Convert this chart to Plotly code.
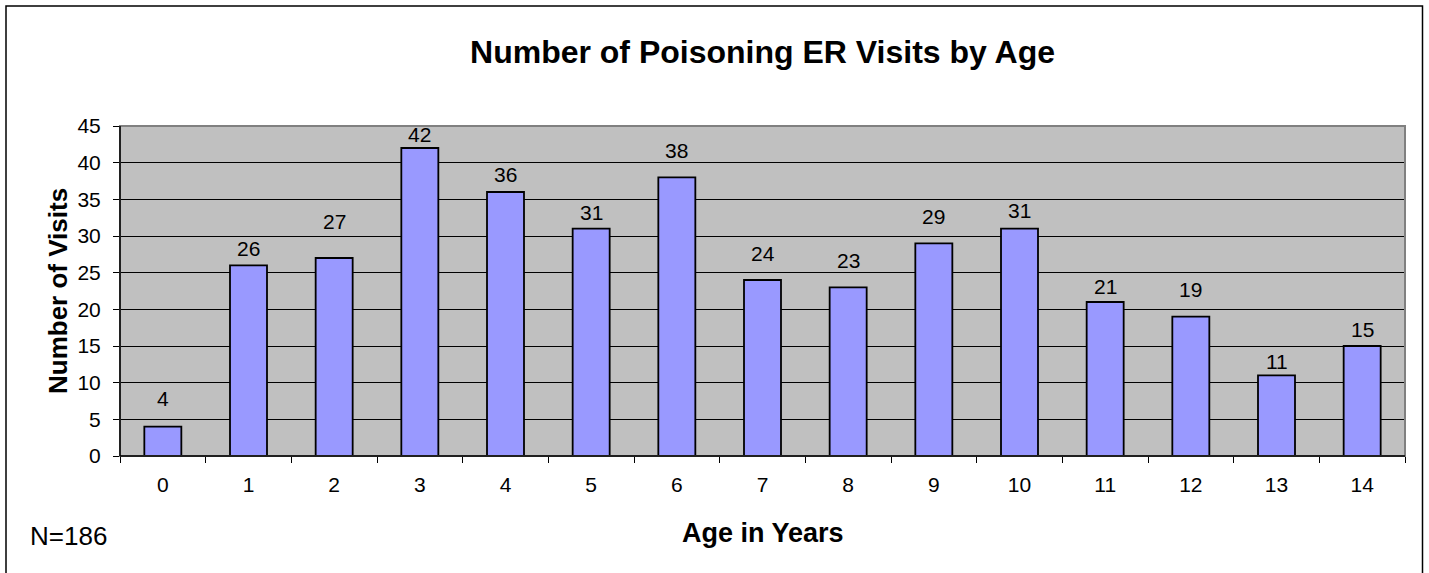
import plotly.graph_objects as go

# data
ages = ["0", "1", "2", "3", "4", "5", "6", "7", "8", "9", "10", "11", "12", "13", "14"]
visits = [4, 26, 27, 42, 36, 31, 38, 24, 23, 29, 31, 21, 19, 11, 15]
total_label = "N=186"

# pixel lift of each value label above its bar (Excel placed them unevenly)
label_lift = [28, 17, 37, 14, 18, 16, 27, 27, 27, 27, 18, 16, 27, 14, 17]

FONT = "Liberation Sans, Arial, sans-serif"
W, H = 1429, 573
L, R, T, B = 120, 24, 126, 117
PW, PH = W - L - R, H - T - B
Y0 = 456  # pixel row of the x axis


def px_x(p):
    return (p - L) / PW


def px_y(p):
    return (Y0 - p) / PH


fig = go.Figure()

fig.add_trace(go.Bar(
    x=ages,
    y=visits,
    marker=dict(color="#9999FF", line=dict(color="black", width=1.8)),
    hoverinfo="x+y",
))

# value labels
for a, v, lift in zip(ages, visits, label_lift):
    fig.add_annotation(x=a, y=v, text=str(v), showarrow=False,
                       yanchor="middle", yshift=lift,
                       font=dict(family=FONT, size=21, color="black"))

# axis titles and note
fig.add_annotation(xref="paper", yref="paper", x=px_x(58), y=0.5,
                   text="<b>Number of Visits</b>", textangle=-90, showarrow=False,
                   xanchor="center", yanchor="middle",
                   font=dict(family=FONT, size=26, color="black"))
fig.add_annotation(xref="paper", yref="paper", x=0.5, y=px_y(533),
                   text="<b>Age in Years</b>", showarrow=False,
                   xanchor="center", yanchor="middle",
                   font=dict(family=FONT, size=27, color="black"))
fig.add_annotation(xref="paper", yref="paper", x=px_x(28), y=px_y(536),
                   text=total_label, showarrow=False,
                   xanchor="left", yanchor="middle",
                   font=dict(family=FONT, size=26, color="black"))

# gray plot-area frame (top / right) and outer chart border
fig.add_shape(type="rect", xref="paper", yref="paper", x0=0, x1=1, y0=0, y1=1,
              line=dict(color="#808080", width=2), layer="above")
fig.add_shape(type="line", xref="paper", yref="paper", x0=0, x1=0, y0=0, y1=1,
              line=dict(color="black", width=1.5), layer="above")
fig.add_shape(type="line", xref="paper", yref="paper", x0=0, x1=1, y0=0, y1=0,
              line=dict(color="black", width=1.5), layer="above")
fig.add_shape(type="rect", xref="paper", yref="paper",
              x0=px_x(6), x1=px_x(1422.5),
              y0=px_y(580), y1=px_y(6),
              line=dict(color="black", width=1.5))

fig.update_layout(
    width=W, height=H,
    margin=dict(l=L, r=R, t=T, b=B),
    paper_bgcolor="white",
    plot_bgcolor="#C0C0C0",
    showlegend=False,
    bargap=0.568,
    title=dict(text="<b>Number of Poisoning ER Visits by Age</b>",
               x=0.5, xanchor="center", xref="paper",
               y=1 - 52 / H, yanchor="middle",
               font=dict(family=FONT, size=32, color="black")),
    font=dict(family=FONT, color="black"),
)

fig.update_xaxes(
    type="category",
    tickson="boundaries",
    ticks="outside", ticklen=6, tickcolor="black", tickwidth=1,
    tickfont=dict(family=FONT, size=21, color="black"),
    ticklabelstandoff=14,
    showgrid=False,
    showline=False,
)
fig.update_yaxes(
    range=[0, 45],
    tickvals=[0, 5, 10, 15, 20, 25, 30, 35, 40, 45],
    ticks="outside", ticklen=6, tickcolor="black", tickwidth=1,
    tickfont=dict(family=FONT, size=21, color="black"),
    ticklabelstandoff=8,
    showgrid=True, gridcolor="black", gridwidth=1,
    zeroline=False,
    showline=False,
)

# drop the default page margin so the figure sits at the window's corner
fig.write_html("out.html", config={"displayModeBar": False},
               post_script="document.body.style.margin='0px';")
